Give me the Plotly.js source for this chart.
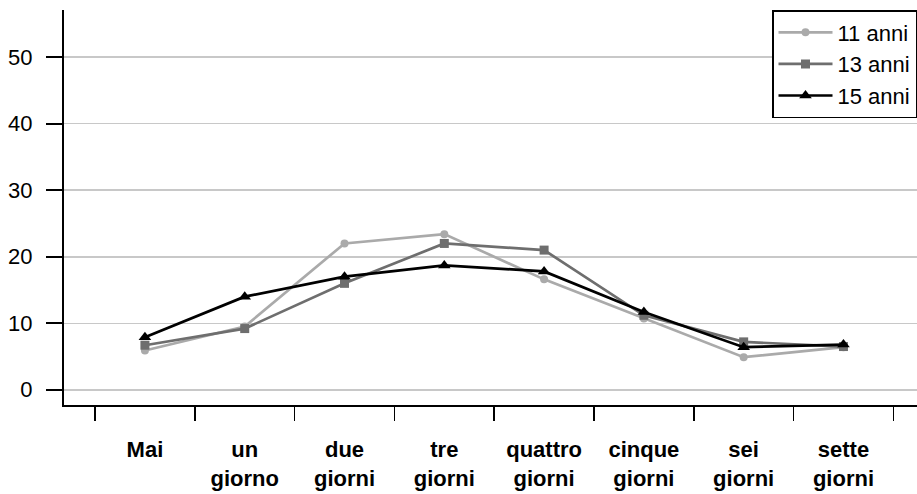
<!DOCTYPE html>
<html>
<head>
<meta charset="utf-8">
<script src="https://cdn.plot.ly/plotly-3.0.1.min.js"></script>
<style>
  html, body { margin: 0; padding: 0; background: #fff; }
  #chart { width: 917px; height: 494px; }
</style>
</head>
<body>
<div id="chart"></div>
<script>
// ---------- dati ----------
var categorie = ['Mai', 'un<br>giorno', 'due<br>giorni', 'tre<br>giorni', 'quattro<br>giorni', 'cinque<br>giorni', 'sei<br>giorni', 'sette<br>giorni'];
var anni11 = [5.9, 9.5, 22.0, 23.4, 16.6, 10.7, 4.9, 6.4];
var anni13 = [6.7, 9.2, 16.0, 22.0, 21.0, 11.2, 7.2, 6.5];
var anni15 = [7.9, 14.0, 17.0, 18.7, 17.8, 11.7, 6.4, 6.8];
var yTicks = [0, 10, 20, 30, 40, 50];

var FONT = 'Liberation Sans, Arial, sans-serif';

function serie(nome, valori, colore, simbolo, size) {
    return {
        x: categorie,
        y: valori,
        name: nome,
        type: 'scatter',
        mode: 'lines+markers',
        line: { color: colore, width: 2.7 },
        marker: { color: colore, symbol: simbolo, size: size }
    };
}

var data = [
    serie('11 anni', anni11, '#aaaaaa', 'circle', 8),
    serie('13 anni', anni13, '#6e6e6e', 'square', 9),
    serie('15 anni', anni15, '#000000', 'triangle-up', 11)
];

var layout = {
    width: 917,
    height: 494,
    margin: { l: 64, r: 0, t: 10, b: 89 },
    paper_bgcolor: '#ffffff',
    plot_bgcolor: '#ffffff',
    font: { family: FONT, size: 21, color: '#000' },
    showlegend: true,
    legend: {
        x: 1, xanchor: 'right', y: 1, yanchor: 'top',
        bgcolor: '#ffffff',
        bordercolor: '#000000',
        borderwidth: 1.5,
        font: { family: FONT, size: 22, color: '#000' },
        itemwidth: 54,
        tracegroupgap: 0
    },
    xaxis: {
        type: 'category',
        range: [-0.811, 7.737],
        tickson: 'boundaries',
        ticks: 'outside',
        ticklen: 14,
        tickwidth: 1.5,
        tickcolor: '#000',
        showline: true,
        linecolor: '#000',
        linewidth: 1.5,
        showgrid: false,
        zeroline: false,
        ticklabelstandoff: 24,
        tickfont: { family: FONT, size: 22, color: '#000', weight: 'bold' }
    },
    yaxis: {
        range: [-2.29, 57.1],
        tickvals: yTicks,
        ticks: 'outside',
        ticklen: 16,
        tickwidth: 2,
        tickcolor: '#000',
        showline: true,
        linecolor: '#000',
        linewidth: 2,
        showgrid: true,
        gridcolor: '#c8c8c8',
        gridwidth: 1.5,
        zeroline: false,
        ticklabelstandoff: 9,
        tickfont: { family: FONT, size: 22, color: '#000' }
    }
};

Plotly.newPlot('chart', data, layout, { displayModeBar: false, staticPlot: true });
</script>
</body>
</html>
